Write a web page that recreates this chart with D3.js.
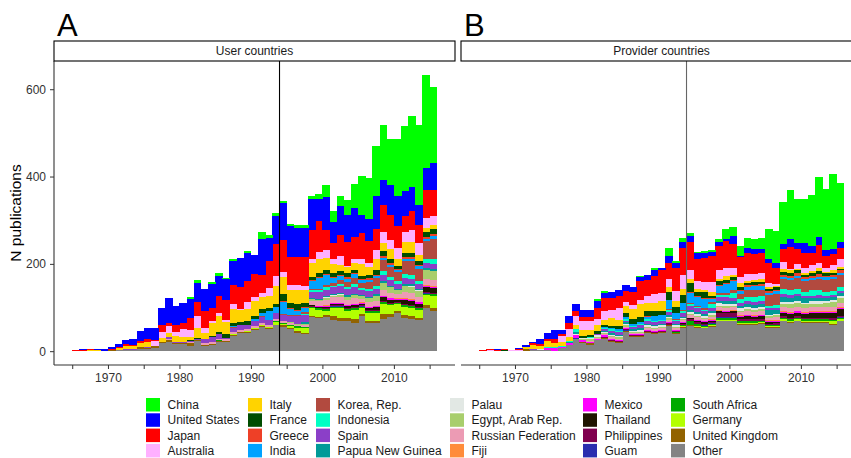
<!DOCTYPE html>
<html>
<head>
<meta charset="utf-8">
<script src="https://cdn.jsdelivr.net/npm/d3@7"></script>
<style>
body { margin: 0; background: #fff; }
text { font-family: "Liberation Sans", Arial, Helvetica, sans-serif; }
</style>
</head>
<body>
<div id="chart"></div>
<script>
// -- DATA -- //
// one bar per year, each bar runs from year to year+1
const years = [
    1965, 1966, 1967, 1968, 1969, 1970, 1971, 1972, 1973, 1974,
    1975, 1976, 1977, 1978, 1979, 1980, 1981, 1982, 1983, 1984,
    1985, 1986, 1987, 1988, 1989, 1990, 1991, 1992, 1993, 1994,
    1995, 1996, 1997, 1998, 1999, 2000, 2001, 2002, 2003, 2004,
    2005, 2006, 2007, 2008, 2009, 2010, 2011, 2012, 2013, 2014,
    2015
];

const countries = [
    "China", "United States", "Japan", "Australia", "Italy", "France",
    "Greece", "India", "Korea, Rep.", "Indonesia", "Spain", "Papua New Guinea",
    "Palau", "Egypt, Arab Rep.", "Russian Federation", "Fiji", "Mexico", "Thailand",
    "Philippines", "Guam", "South Africa", "Germany", "United Kingdom", "Other"
];

const colors = [
    "#00ff00", "#0000ff", "#ff0000", "#ffb0ff", "#ffd300", "#004d00",
    "#ee4027", "#00a2ff", "#b24a3f", "#00ffc4", "#8b3fc8", "#009a98",
    "#e2e8e4", "#a8ce6c", "#ec9bb4", "#ff8c3a", "#ff00ff", "#1f1400",
    "#80004f", "#2a2daf", "#00aa00", "#b3ff00", "#926300", "#838383"
];

const xTicks = [1965, 1970, 1975, 1980, 1985, 1990, 1995, 2000, 2005, 2010, 2015];
const xLabels = [1970, 1980, 1990, 2000, 2010];
const yTicks = [0, 200, 400, 600];
const markYear = 1994;
const panelTitles = ["User countries", "Provider countries"];
const panelTags = ["A", "B"];

// user countries (panel A), 1965 -> 2015
const userChina = [0,0,0,0,0,0,0,0,0,0, 0,0,0,0,0,0,3,5,0,3, 5,2,3,0,5,0,14,8,6,6, 5,6,8,8,11,26,26,23,33,55, 88,94,115,125,105,131,150,163,183,214, 175];
const userUS = [0,2,1,4,3,5,6,8,15,23, 25,29,39,58,44,46,44,44,50,56, 47,47,55,66,64,44,83,53,64,85, 71,67,67,71,50,77,47,65,64,66, 43,49,76,58,69,70,56,56,46,50, 61];
const userJapan = [2,1,3,0,0,3,3,6,3,5, 6,2,14,6,15,15,28,32,40,31, 38,46,44,50,48,53,42,61,73,73, 65,65,65,65,70,46,37,50,53,49, 60,52,49,61,57,49,36,42,41,65, 61];
const userAustralia = [0,0,0,0,0,0,0,0,0,0, 0,10,14,16,11,17,15,27,11,4, 8,5,11,3,15,10,8,18,24,11, 11,11,11,11,18,17,11,19,3,10, 10,8,21,25,21,27,25,29,26,23, 21];
const userItaly = [0,0,1,1,0,0,4,7,6,10, 11,2,9,9,14,11,8,24,12,30, 36,28,33,28,28,34,29,28,42,40, 29,31,28,31,31,27,21,15,14,15, 28,18,25,18,22,14,24,24,15,8, 8];
const userFrance = [0,0,0,0,0,0,0,0,0,0, 0,0,0,1,0,0,1,2,0,1, 5,8,6,5,8,6,8,8,5,15, 12,14,9,8,9,10,8,8,10,8, 7,8,10,12,10,8,10,10,9,11, 12];
const userGreece = [0,0,0,0,0,0,0,0,0,0, 0,0,0,0,0,0,0,0,0,0, 0,0,0,0,0,0,0,0,0,2, 2,2,2,2,2,3,3,3,3,3, 2,3,3,4,3,3,4,4,3,4, 4];
const userIndia = [0,0,0,0,0,0,0,0,0,0, 0,0,0,0,0,0,0,0,0,0, 0,0,3,2,0,5,8,19,14,28, 15,10,11,18,25,22,12,10,8,8, 6,6,5,6,5,4,5,5,5,6, 6];
const userKorea = [0,0,0,0,0,0,0,0,0,0, 0,0,0,0,0,0,0,0,0,0, 0,0,1,0,0,0,2,0,0,2, 2,2,3,3,4,6,6,8,10,14, 12,15,18,25,22,20,30,32,28,40, 48];
const userIndonesia = [0,0,0,0,0,0,0,0,0,0, 0,0,0,0,0,0,0,0,0,0, 0,0,0,0,0,0,0,0,0,1, 0,0,3,3,3,5,4,5,5,6, 4,5,7,8,7,6,8,8,7,9, 10];
const userSpain = [0,0,0,0,0,0,1,1,2,0, 3,0,1,5,1,4,4,2,11,12, 10,4,10,10,10,11,13,11,14,12, 14,18,17,14,16,15,15,16,15,16, 12,13,12,14,14,12,14,13,12,13, 12];
const userPNG = [0,0,0,0,0,0,0,0,0,0, 0,0,0,0,0,0,0,0,0,0, 0,0,0,0,0,0,0,0,0,0, 0,0,3,3,3,3,3,3,3,3, 2,3,3,4,3,3,4,4,3,4, 4];
const userPalau = [0,0,0,0,0,0,0,0,0,0, 0,0,0,0,0,0,0,0,0,0, 0,0,0,0,0,0,0,0,0,0, 0,0,0,0,0,1,1,1,1,1, 1,1,1,1,1,1,1,1,1,1, 1];
const userEgypt = [0,0,0,0,0,0,0,0,0,0, 0,0,0,0,0,0,0,0,0,0, 0,0,0,0,0,0,0,0,0,2, 2,2,4,3,3,5,4,5,6,7, 6,9,12,15,12,8,14,15,13,20, 20];
const userRussia = [0,0,0,0,0,0,0,0,0,0, 0,0,0,1,0,0,2,1,4,5, 4,3,5,5,5,4,5,6,5,4, 4,3,3,10,11,12,12,13,12,13, 8,10,10,14,12,10,14,14,12,14, 14];
const userFiji = [0,0,0,0,0,0,0,0,0,0, 0,0,0,0,0,0,0,0,0,0, 0,0,0,0,0,0,0,0,0,0, 0,0,0,0,0,1,1,1,1,1, 1,1,1,1,1,1,1,1,1,1, 1];
const userMexico = [0,0,0,0,0,0,0,0,0,0, 0,0,0,0,0,0,0,0,0,0, 0,0,0,0,0,0,0,0,0,0, 0,0,0,1,1,2,2,2,2,2, 2,2,2,3,3,2,3,3,3,3, 3];
const userThailand = [0,0,0,0,0,0,0,0,0,0, 0,0,0,0,0,0,0,0,0,0, 0,0,0,0,0,0,0,0,0,0, 0,0,0,2,2,3,3,3,4,4, 4,5,7,8,7,5,9,9,8,12, 12];
const userPhilippines = [0,0,0,0,0,0,0,0,0,0, 0,0,0,0,0,0,0,0,0,0, 0,0,0,0,0,0,0,0,0,0, 0,0,0,1,1,2,2,2,2,2, 2,2,2,2,2,2,2,2,2,2, 2];
const userGuam = [0,0,0,0,0,0,0,0,0,0, 0,0,0,0,0,0,0,0,0,0, 0,0,0,0,0,0,0,0,0,0, 0,0,0,0,0,1,1,1,1,1, 1,1,1,1,1,1,1,1,1,1, 1];
const userSouthAfrica = [0,0,0,0,0,0,0,0,0,0, 0,0,0,0,0,0,0,0,0,0, 1,0,0,0,0,0,0,0,3,2, 3,4,3,3,4,4,4,4,4,4, 3,3,3,4,3,3,3,3,3,3, 3];
const userGermany = [0,0,0,0,0,0,0,0,0,0, 0,0,0,1,0,0,0,0,0,0, 0,0,2,0,2,4,3,2,5,3, 4,8,11,18,16,10,18,22,16,21, 14,18,18,22,20,15,19,19,18,23, 27];
const userUK = [0,0,0,0,0,1,0,1,1,3, 2,3,2,3,3,1,7,2,2,2, 2,2,3,2,2,2,2,2,2,3, 2,4,2,3,3,4,8,8,8,8, 5,5,5,12,7,5,7,7,6,7, 8];
const userOther = [0,1,1,1,1,1,2,2,2,6, 5,8,19,22,16,17,11,23,12,14, 22,22,34,42,42,48,55,51,59,56, 51,42,40,78,76,78,72,68,68,65, 80,65,65,74,78,87,76,74,71,99, 92];

// provider countries (panel B), 1965 -> 2015
const provChina = [0,0,0,0,0,0,0,0,0,0, 0,0,0,0,0,0,5,4,0,0, 0,0,3,0,5,0,18,5,8,8, 3,5,5,8,21,21,24,23,23,25, 70,74,95,112,100,102,115,138,140,170, 135];
const provUS = [0,0,2,2,1,2,6,3,12,14, 19,10,15,18,17,17,15,11,13,15, 14,12,10,11,12,5,17,10,15,14, 13,10,8,9,6,18,2,11,11,10, 8,10,11,18,13,22,17,19,15,13, 15];
const provJapan = [2,2,1,2,0,4,0,4,5,5, 10,4,14,10,10,10,26,31,27,27, 26,30,42,38,41,52,37,53,61,63, 50,55,60,56,61,56,45,50,46,45, 45,37,31,50,36,35,27,42,26,25, 24];
const provAustralia = [0,2,0,0,1,1,0,0,0,0, 0,13,18,21,19,19,13,19,19,27, 9,9,11,15,21,19,18,23,33,21, 19,18,23,19,19,15,15,15,13,14, 10,5,15,4,10,12,15,11,9,11, 19];
const provItaly = [0,0,0,0,0,0,5,10,8,13, 10,9,10,10,14,11,14,11,19,15, 15,22,28,20,19,23,12,13,13,9, 6,5,10,6,8,6,9,5,5,8, 5,3,8,5,3,4,5,6,4,6, 5];
const provFrance = [0,0,0,1,0,0,0,0,0,0, 0,0,0,0,5,5,8,5,5,7, 10,12,12,10,11,10,17,14,18,20, 10,14,5,8,8,5,6,5,6,5, 5,5,6,8,8,5,6,8,5,5, 3];
const provGreece = [0,0,0,0,0,0,0,0,0,0, 0,0,0,0,0,0,0,0,0,0, 0,0,0,2,0,0,0,0,0,2, 2,2,2,3,3,3,3,3,3,3, 4,4,5,5,5,4,5,5,4,5, 5];
const provIndia = [0,0,0,0,0,0,0,0,0,0, 0,0,0,0,0,0,0,2,2,3, 5,4,4,6,11,10,22,14,17,24, 20,22,6,15,20,22,8,8,8,10, 5,5,4,5,5,5,5,5,5,5, 5];
const provKorea = [0,0,0,0,0,0,0,0,0,0, 0,0,0,0,0,0,0,0,0,0, 0,0,0,0,0,0,2,2,3,3, 3,3,4,5,5,6,11,15,16,14, 24,26,24,22,25,24,23,26,28,27, 27];
const provIndonesia = [0,0,0,0,0,0,0,0,0,2, 2,3,3,5,0,3,0,3,3,3, 3,3,3,3,3,3,4,3,4,3, 3,3,10,5,5,12,8,10,12,12, 5,6,12,12,12,10,12,12,10,10, 10];
const provSpain = [0,0,0,0,0,0,0,3,0,0, 0,0,0,0,0,0,3,4,6,6, 4,4,8,7,6,6,8,6,8,9, 8,7,6,8,8,7,8,7,7,7, 5,5,6,6,5,5,5,6,5,5, 5];
const provPNG = [0,0,0,0,0,0,0,0,0,0, 0,0,2,5,0,0,0,3,3,3, 4,4,4,4,4,4,4,4,4,5, 5,4,5,6,6,5,5,6,6,6, 10,10,11,10,10,10,8,8,6,6, 6];
const provPalau = [0,0,0,0,0,0,0,0,2,0, 0,0,0,2,2,3,3,3,3,3, 3,3,3,3,3,3,3,3,2,4, 4,4,5,6,6,5,5,6,5,5, 3,3,5,5,5,4,5,5,4,4, 5];
const provEgypt = [0,0,0,0,0,0,0,0,0,0, 0,0,0,0,3,3,3,2,3,3, 3,2,3,3,3,3,3,3,2,3, 3,3,4,3,3,3,4,5,5,5, 4,4,6,7,9,8,8,8,10,12, 12];
const provRussia = [0,0,0,0,0,0,0,0,0,0, 0,0,0,0,0,2,2,3,3,3, 3,3,3,4,4,4,5,4,4,6, 6,5,6,7,7,7,7,8,8,8, 6,6,10,10,9,9,9,9,9,9, 9];
const provFiji = [0,0,0,0,0,0,0,0,0,0, 0,0,0,2,0,0,0,0,0,0, 0,0,0,0,0,0,0,0,0,0, 1,1,1,1,1,1,1,1,1,1, 2,2,2,2,2,2,2,2,2,2, 2];
const provMexico = [0,0,0,0,0,0,0,0,0,6, 7,3,3,6,4,4,3,4,3,3, 3,2,3,3,3,3,3,3,2,2, 2,2,2,2,2,2,2,2,2,2, 3,3,3,3,3,3,3,3,3,3, 3];
const provThailand = [0,0,0,0,0,0,0,0,0,0, 0,0,0,0,0,0,0,0,0,0, 0,0,0,0,0,0,0,0,2,2, 3,3,3,3,3,3,5,6,6,6, 3,3,7,8,8,8,10,10,10,12, 15];
const provPhilippines = [0,0,0,0,0,0,0,0,0,0, 0,0,0,0,0,0,0,2,2,2, 2,2,2,2,2,2,3,3,3,3, 3,4,3,10,9,10,5,5,4,4, 2,3,3,3,3,3,3,3,3,3, 3];
const provGuam = [0,0,0,0,0,0,0,0,0,0, 0,0,0,2,0,0,0,0,0,0, 2,0,0,0,0,0,0,0,0,1, 1,1,1,1,1,1,1,1,1,1, 1,1,1,1,1,1,1,1,1,1, 1];
const provSouthAfrica = [0,0,0,0,0,0,0,0,0,0, 0,0,0,0,0,0,0,0,0,0, 0,0,0,0,0,0,2,2,3,8, 4,3,3,5,5,5,3,3,3,3, 3,3,3,3,3,3,3,3,3,3, 3];
const provGermany = [0,0,0,0,0,0,0,0,0,0, 0,0,0,0,0,0,0,0,0,0, 0,0,0,0,0,0,0,0,2,2, 2,2,2,2,2,2,2,2,2,2, 2,2,3,3,3,3,3,3,3,5, 4];
const provUK = [0,0,0,0,0,0,3,0,0,0, 0,0,0,0,2,3,0,2,2,2, 2,2,2,2,2,2,2,2,2,2, 2,1,2,2,2,2,2,2,2,2, 2,2,2,2,2,2,2,2,2,2, 2];
const provOther = [0,0,1,1,1,1,1,2,2,2, 0,7,15,28,19,15,25,28,22,19, 44,33,32,42,40,42,57,39,53,57, 54,52,56,68,68,68,61,61,61,62, 53,53,68,65,68,65,65,65,65,61, 68];

const userCols = [userChina, userUS, userJapan, userAustralia, userItaly, userFrance,
    userGreece, userIndia, userKorea, userIndonesia, userSpain, userPNG,
    userPalau, userEgypt, userRussia, userFiji, userMexico, userThailand,
    userPhilippines, userGuam, userSouthAfrica, userGermany, userUK, userOther];
const provCols = [provChina, provUS, provJapan, provAustralia, provItaly, provFrance,
    provGreece, provIndia, provKorea, provIndonesia, provSpain, provPNG,
    provPalau, provEgypt, provRussia, provFiji, provMexico, provThailand,
    provPhilippines, provGuam, provSouthAfrica, provGermany, provUK, provOther];

// -- LAYOUT -- //
var width = 851;
var height = 458;
var plotTop = 61;
var plotBottom = 365;
var panelLefts = [54, 461];
var panelWidth = 401;
var stripTop = 41;

let buildRows = (cols) => years.map((yr, i) => {
    let row = { year: yr };
    countries.forEach((c, j) => { row[c] = cols[j][i]; });
    return row;
});

const panels = [buildRows(userCols), buildRows(provCols)];

// Other at the bottom of each bar, China on top
const stack = d3.stack().keys(countries.slice().reverse());
const stacked = panels.map(rows => stack(rows));

const color = d3.scaleOrdinal().domain(countries).range(colors);

// shared y scale (ggplot style 5% expansion)
let yMax = d3.max(stacked, s => d3.max(s[s.length - 1], d => d[1]));
const y = d3.scaleLinear()
    .domain([-0.05 * yMax, 1.05 * yMax])
    .range([plotBottom, plotTop]);

const svg = d3.select("#chart")
    .append("svg")
    .attr("width", width)
    .attr("height", height);

let drawPanel = (p) => {
    let left = panelLefts[p];
    let span = years[years.length - 1] + 1 - years[0];
    let x = d3.scaleLinear()
        .domain([years[0] - 0.05 * span, years[years.length - 1] + 1 + 0.05 * span])
        .range([left, left + panelWidth]);

    let g = svg.append("g");

    // bars
    g.selectAll("g.layer")
        .data(stacked[p])
        .enter()
        .append("g")
        .attr("class", "layer")
        .attr("fill", d => color(d.key))
        .attr("shape-rendering", "crispEdges")
        .selectAll("rect")
        .data(d => d.filter(v => v[1] > v[0]))
        .enter()
        .append("rect")
        .attr("x", d => x(d.data.year))
        .attr("width", d => x(d.data.year + 1) - x(d.data.year) + 0.5)
        .attr("y", d => y(d[1]))
        .attr("height", d => y(d[0]) - y(d[1]));

    // marker year
    g.append("line")
        .attr("x1", x(markYear)).attr("x2", x(markYear))
        .attr("y1", plotTop).attr("y2", plotBottom)
        .attr("stroke", p === 0 ? "#000" : "#666")
        .attr("stroke-width", 1.1);

    // x axis
    let xAxis = d3.axisBottom(x)
        .tickValues(xTicks)
        .tickFormat(d => xLabels.includes(d) ? d : "")
        .tickSize(4)
        .tickPadding(4)
        .tickSizeOuter(0);
    let ax = g.append("g")
        .attr("transform", "translate(0," + plotBottom + ")")
        .call(xAxis);
    ax.select(".domain").remove();
    ax.selectAll("line").attr("stroke", "#333");
    ax.selectAll("text").attr("fill", "#333").style("font-size", "12px");
    g.append("line")
        .attr("x1", left).attr("x2", left + panelWidth)
        .attr("y1", plotBottom).attr("y2", plotBottom)
        .attr("stroke", "#333").attr("stroke-width", 1.1);

    // y axis only on the first panel
    if (p === 0) {
        let yAxis = d3.axisLeft(y)
            .tickValues(yTicks)
            .tickSize(4)
            .tickPadding(4)
            .tickSizeOuter(0);
        let ay = g.append("g")
            .attr("transform", "translate(" + left + ",0)")
            .call(yAxis);
        ay.select(".domain").remove();
        ay.selectAll("line").attr("stroke", "#333");
        ay.selectAll("text").attr("fill", "#333").style("font-size", "12px");
        g.append("line")
            .attr("x1", left).attr("x2", left)
            .attr("y1", plotTop).attr("y2", plotBottom)
            .attr("stroke", "#333").attr("stroke-width", 1.1);
    }

    // strip
    g.append("rect")
        .attr("x", left).attr("y", stripTop)
        .attr("width", panelWidth).attr("height", plotTop - stripTop)
        .attr("fill", "#fff")
        .attr("stroke", "#000")
        .attr("stroke-width", 1.1);
    g.append("text")
        .attr("x", left + panelWidth / 2)
        .attr("y", (stripTop + plotTop) / 2 + 4)
        .attr("text-anchor", "middle")
        .style("font-size", "12px")
        .attr("fill", "#1a1a1a")
        .text(panelTitles[p]);

    // panel tag
    g.append("text")
        .attr("x", left + 3)
        .attr("y", 36)
        .style("font-size", "31px")
        .attr("fill", "#000")
        .text(panelTags[p]);
};

drawPanel(0);
drawPanel(1);

// y title
svg.append("text")
    .attr("transform", "translate(21," + ((plotTop + plotBottom) / 2) + ") rotate(-90)")
    .attr("text-anchor", "middle")
    .style("font-size", "15.5px")
    .attr("fill", "#000")
    .text("N publications");

// -- LEGEND -- //
var legendColX = [146, 248, 316, 450, 583, 671];
var legendTop = 398;
var legendStep = 15.3;

let legend = svg.append("g");
countries.forEach((c, i) => {
    let col = Math.floor(i / 4);
    let row = i % 4;
    let lx = legendColX[col];
    let ly = legendTop + row * legendStep;
    legend.append("rect")
        .attr("x", lx).attr("y", ly)
        .attr("width", 14).attr("height", 13.5)
        .attr("fill", color(c));
    legend.append("text")
        .attr("x", lx + 21.5)
        .attr("y", ly + 11)
        .style("font-size", "12px")
        .attr("fill", "#1a1a1a")
        .text(c);
});
</script>
</body>
</html>
